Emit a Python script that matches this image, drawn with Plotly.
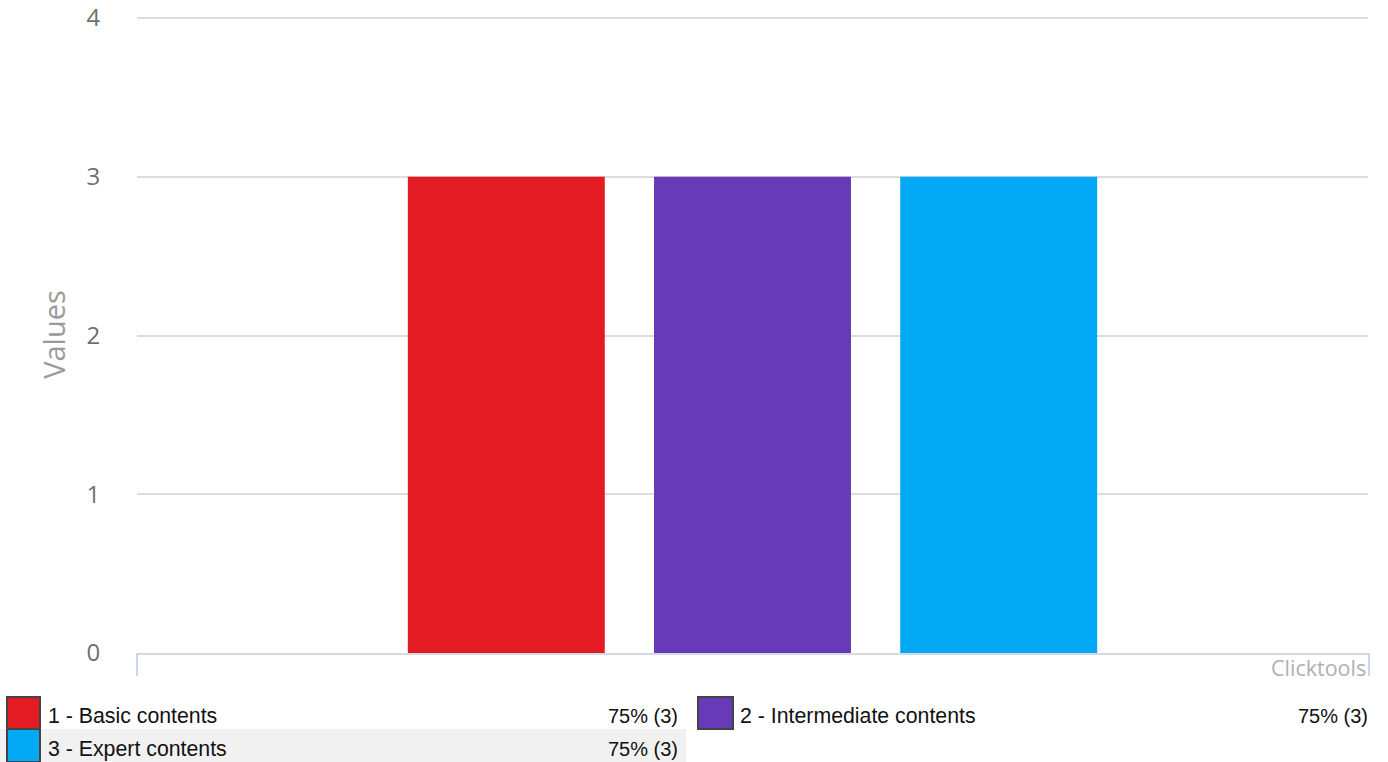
import plotly.graph_objects as go

# Chart data
categories = ["1 - Basic contents", "2 - Intermediate contents", "3 - Expert contents"]
values = [3, 3, 3]
percents = ["75%", "75%", "75%"]
colors = ["#E31B23", "#673AB7", "#03A9F4"]
y_ticks = [0, 1, 2, 3, 4]

W, H = 1388, 762
L, R, T, B = 137, 20, 16, 109
PW, PH = W - L - R, H - T - B
Y_TOP = 4.0126  # a hair above 4 so the top gridline and label stay visible


def px_x(x):
    return (x - L) / PW


def px_y(y):
    return (H - B - y) / PH


fig = go.Figure()
fig.add_trace(go.Bar(
    x=categories,
    y=values,
    marker=dict(color=colors, line=dict(width=0)),
    width=0.8,
    hoverinfo="x+y",
    showlegend=False,
))

fig.update_layout(
    width=W, height=H,
    margin=dict(l=L, r=R, t=T, b=B, pad=0, autoexpand=False),
    paper_bgcolor="white",
    plot_bgcolor="white",
    font=dict(family="Open Sans, DejaVu Sans, sans-serif", color="#666"),
    xaxis=dict(
        type="category",
        range=[-1.5, 3.5],
        showticklabels=False,
        showgrid=False,
        zeroline=False,
        showline=True,
        linecolor="#d5dbe3",
        linewidth=2,
        ticks="",
        automargin=False,
        fixedrange=True,
    ),
    yaxis=dict(
        range=[0, Y_TOP],
        tickvals=y_ticks,
        ticktext=[str(v) for v in y_ticks],
        showgrid=True,
        gridcolor="#dddddd",
        gridwidth=2,
        zeroline=False,
        showline=False,
        ticks="outside",
        ticklen=31,
        tickcolor="rgba(0,0,0,0)",
        tickfont=dict(size=24, color="#6f6f6f"),
        title=dict(text="Values", font=dict(size=29, color="#9a9a9a"), standoff=12),
        automargin=False,
        fixedrange=True,
    ),
    bargap=0.2,
)

shapes = []
annotations = []

# Small end markers on the category axis
for xp in (137, 1369):
    shapes.append(dict(type="line", xref="paper", yref="paper",
                       x0=px_x(xp), x1=px_x(xp), y0=px_y(653), y1=px_y(676),
                       line=dict(color="#c9d7e6", width=2)))

annotations.append(dict(
    text="Clicktools", xref="paper", yref="paper",
    x=px_x(1368), y=px_y(667), xanchor="right", yanchor="middle",
    showarrow=False, font=dict(size=21.5, color="#b0b0b0",
                               family="Open Sans, DejaVu Sans, sans-serif"),
))

# Legend table below the chart
rows = [
    # (category index, box x0, box x1, row top, row bottom, text x, value right x)
    (0, 7, 40, 697, 729, 46, 680),
    (1, 698, 733, 697, 729, 738, 1370),
    (2, 7, 40, 729, 762, 46, 680),
]

# light row background for the second row
shapes.append(dict(type="rect", xref="paper", yref="paper",
                   x0=px_x(0), x1=px_x(686), y0=px_y(762), y1=px_y(729),
                   fillcolor="#f1f1f1", line=dict(width=0), layer="below"))

for idx, bx0, bx1, ty, by, tx, vx in rows:
    shapes.append(dict(type="rect", xref="paper", yref="paper",
                       x0=px_x(bx0), x1=px_x(bx1), y0=px_y(by), y1=px_y(ty),
                       fillcolor=colors[idx], line=dict(color="#444444", width=2)))
    cy = (ty + by) / 2 + 3
    annotations.append(dict(
        text=categories[idx], xref="paper", yref="paper",
        x=px_x(tx), y=px_y(cy), xanchor="left", yanchor="middle",
        showarrow=False,
        font=dict(size=21.3, color="#111111", family="Liberation Sans, Arial, sans-serif"),
    ))
    annotations.append(dict(
        text=f"{percents[idx]} ({values[idx]})", xref="paper", yref="paper",
        x=px_x(vx), y=px_y(cy), xanchor="right", yanchor="middle",
        showarrow=False,
        font=dict(size=20, color="#111111", family="Liberation Sans, Arial, sans-serif"),
    ))

fig.update_layout(shapes=shapes, annotations=annotations)

fig.write_html("out.html", config={"displayModeBar": False})
